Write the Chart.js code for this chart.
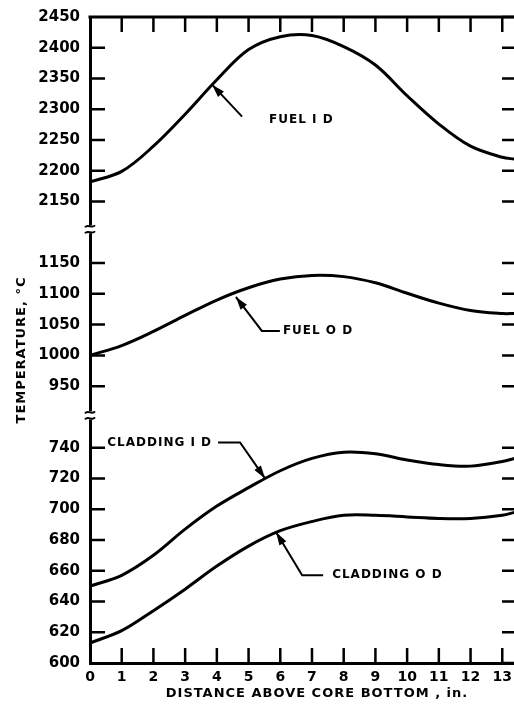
<!DOCTYPE html>
<html>
<head>
<meta charset="utf-8">
<script src="https://cdn.jsdelivr.net/npm/chart.js@4.4.1/dist/chart.umd.min.js"></script>
<style>
  html, body { margin: 0; padding: 0; background: #fff; }
</style>
</head>
<body>
<canvas id="temp-chart" width="514" height="712"></canvas>
<script>
// distance above core bottom, in.
const distance = [0, 1, 2, 3, 4, 5, 6, 7, 8, 9, 10, 11, 12, 13, 13.4];

// temperatures, deg C
const fuelID = [2182, 2199, 2240, 2292, 2348, 2397, 2418, 2420, 2402, 2372, 2322, 2276, 2240, 2222, 2219];
const fuelOD = [1000, 1016, 1039, 1065, 1090, 1110, 1124, 1130, 1128, 1118, 1101, 1085, 1073, 1068, 1068];
const claddingID = [650, 657, 670, 687, 702, 714, 725, 733, 737, 736, 732, 729, 728, 731, 733];
const claddingOD = [613, 621, 634, 648, 663, 676, 686, 692, 696, 696, 695, 694, 694, 696, 698];

// the y axis is broken into three pieces
const lowTicks = [600, 620, 640, 660, 680, 700, 720, 740];
const midTicks = [950, 1000, 1050, 1100, 1150];
const highTicks = [2150, 2200, 2250, 2300, 2350, 2400, 2450];
const xTicks = [0, 1, 2, 3, 4, 5, 6, 7, 8, 9, 10, 11, 12, 13];

const MID_BASE = 9, HIGH_BASE = 15, BREAKS = [8.05, 14.1];

function toAxis(v) {
    if (v >= 1800) return HIGH_BASE + (v - highTicks[0]) / 50;
    if (v >= 850) return MID_BASE + (v - midTicks[0]) / 50;
    return (v - lowTicks[0]) / 20;
}

function tickLabel(pos) {
    if (pos < lowTicks.length) return lowTicks[pos];
    if (pos >= MID_BASE && pos < MID_BASE + midTicks.length) return midTicks[pos - MID_BASE];
    if (pos >= HIGH_BASE && pos < HIGH_BASE + highTicks.length) return highTicks[pos - HIGH_BASE];
    return "";
}

const toPoints = arr => distance.map((x, i) => ({ x: x, y: toAxis(arr[i]) }));

const labels = [
    { text: "FUEL I D", tip: [3.85, 2340], path: [[30, 32]], at: [57, 35], align: "left" },
    { text: "FUEL O D", tip: [4.6, 1095], path: [[26, 34], [44, 34]], at: [47, 34], align: "left" },
    { text: "CLADDING I D", tip: [5.52, 720], path: [[-25, -36], [-47, -36]], at: [-53, -36], align: "right" },
    { text: "CLADDING O D", tip: [5.87, 685], path: [[26, 43], [47, 43]], at: [56, 43], align: "left" }
];

const decor = {
    id: "decor",
    afterDraw(chart) {
        const { ctx, chartArea: a, scales } = chart;
        const xs = scales.x, ys = scales.y;
        ctx.save();
        ctx.strokeStyle = "#000";
        ctx.fillStyle = "#000";
        ctx.lineCap = "butt";

        // top frame line
        ctx.lineWidth = 3;
        ctx.beginPath();
        ctx.moveTo(a.left - 1.5, a.top);
        ctx.lineTo(a.right, a.top);
        ctx.stroke();

        // inward tick marks
        ctx.lineWidth = 2.5;
        ctx.beginPath();
        xTicks.slice(1).forEach(v => {
            const px = xs.getPixelForValue(v);
            ctx.moveTo(px, a.bottom); ctx.lineTo(px, a.bottom - 15);
            ctx.moveTo(px, a.top); ctx.lineTo(px, a.top + 15);
        });
        for (let p = 0; p <= 21; p++) {
            if (tickLabel(p) === "") continue;
            const py = ys.getPixelForValue(p);
            if (p > 0 && p < 21) { ctx.moveTo(a.left, py); ctx.lineTo(a.left + 15, py); }
            ctx.moveTo(a.right, py); ctx.lineTo(a.right - 12, py);
        }
        ctx.stroke();

        // axis breaks
        BREAKS.forEach(b => {
            const py = ys.getPixelForValue(b);
            ctx.fillStyle = "#fff";
            ctx.fillRect(a.left - 4, py - 4, 8, 8);
            ctx.lineWidth = 2;
            [-3, 3].forEach(d => {
                ctx.beginPath();
                ctx.moveTo(a.left - 5, py + d + 1);
                ctx.bezierCurveTo(a.left - 2, py + d - 3, a.left + 2, py + d + 3, a.left + 5, py + d - 1);
                ctx.stroke();
            });
        });

        // curve labels with leaders and arrows
        ctx.fillStyle = "#000";
        ctx.lineWidth = 2;
        ctx.font = "bold 12px 'DejaVu Sans'";
        ctx.letterSpacing = "1px";
        ctx.textBaseline = "middle";
        labels.forEach(l => {
            const tx = xs.getPixelForValue(l.tip[0]);
            const ty = ys.getPixelForValue(toAxis(l.tip[1]));
            ctx.beginPath();
            ctx.moveTo(tx, ty);
            l.path.forEach(p => ctx.lineTo(tx + p[0], ty + p[1]));
            ctx.stroke();
            const dx = l.path[0][0], dy = l.path[0][1];
            const len = Math.hypot(dx, dy), ux = dx / len, uy = dy / len;
            ctx.beginPath();
            ctx.moveTo(tx, ty);
            ctx.lineTo(tx + ux * 13 - uy * 4, ty + uy * 13 + ux * 4);
            ctx.lineTo(tx + ux * 13 + uy * 4, ty + uy * 13 - ux * 4);
            ctx.closePath();
            ctx.fill();
            ctx.textAlign = l.align;
            ctx.fillText(l.text, tx + l.at[0], ty + l.at[1]);
        });

        // axis titles
        ctx.font = "bold 13px 'DejaVu Sans'";
        ctx.letterSpacing = "1px";
        ctx.textAlign = "center";
        ctx.fillText("DISTANCE ABOVE CORE BOTTOM , in.", 317, 694);
        ctx.translate(22, 350);
        ctx.rotate(-Math.PI / 2);
        ctx.fillText("TEMPERATURE, °C", 0, 0);
        ctx.restore();
    }
};

const line = (data) => ({
    data: toPoints(data),
    borderColor: "#000",
    borderWidth: 3,
    pointRadius: 0,
    tension: 0.35,
    fill: false
});

new Chart(document.getElementById("temp-chart").getContext("2d"), {
    type: "line",
    data: {
        datasets: [line(fuelID), line(fuelOD), line(claddingID), line(claddingOD)]
    },
    options: {
        responsive: false,
        animation: false,
        layout: { padding: { top: 17, right: 0, bottom: 0, left: 0 } },
        plugins: { legend: { display: false }, tooltip: { enabled: false } },
        scales: {
            x: {
                type: "linear",
                min: 0,
                max: 13.37,
                afterFit: s => { s.height = 49; s.paddingLeft = 0; s.paddingRight = 0; },
                ticks: {
                    stepSize: 1,
                    includeBounds: false,
                    autoSkip: false,
                    maxRotation: 0,
                    padding: 6,
                    color: "#000",
                    font: { family: "DejaVu Sans", size: 14, weight: "bold" }
                },
                grid: { drawOnChartArea: false, drawTicks: false },
                border: { display: true, color: "#000", width: 3 }
            },
            y: {
                type: "linear",
                min: 0,
                max: 21,
                afterFit: s => { s.width = 90; s.paddingTop = 0; s.paddingBottom = 0; },
                ticks: {
                    stepSize: 1,
                    autoSkip: false,
                    padding: 10,
                    color: "#000",
                    font: { family: "DejaVu Sans", size: 15, weight: "bold" },
                    callback: v => tickLabel(v)
                },
                grid: { drawOnChartArea: false, drawTicks: false },
                border: { display: true, color: "#000", width: 3 }
            }
        }
    },
    plugins: [decor]
});
</script>
</body>
</html>
